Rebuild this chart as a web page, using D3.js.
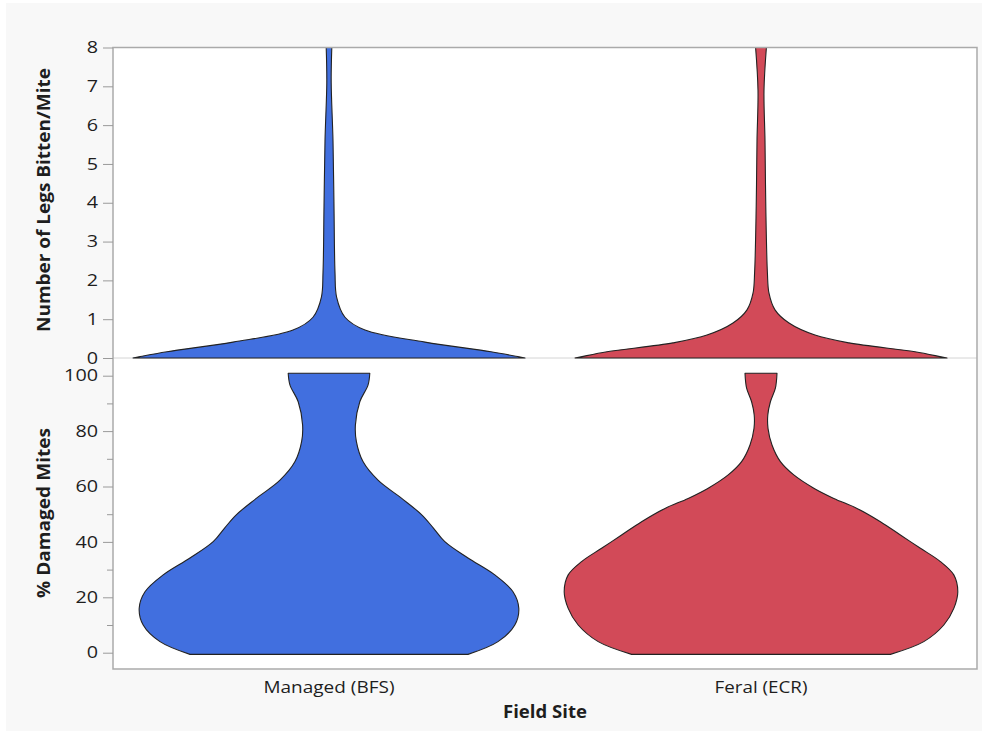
<!DOCTYPE html>
<html>
<head>
<meta charset="utf-8">
<script src="https://cdn.jsdelivr.net/npm/d3@7"></script>
<style>
  html, body { margin: 0; padding: 0; background: #ffffff; }
  text { font-family: "Open Sans", "Noto Sans", sans-serif; fill: #1e1e1e; }
</style>
</head>
<body>
<svg id="chart" width="985" height="731"></svg>
<script>
// Field sites (x categories)
const sites = ["Managed (BFS)", "Feral (ECR)"];
const siteColors = ["#416fdf", "#d24a58"];

// Tick labels
const legTicks = [0, 1, 2, 3, 4, 5, 6, 7, 8];
const pctTicks = [0, 20, 40, 60, 80, 100];
const pctMinorTicks = [10, 30, 50, 70, 90];

// Violin profiles: value along the axis and relative density at that value
// Number of legs bitten per mite
const legsManagedValues  = [0, 0.03, 0.16, 0.41, 0.72, 1.05, 1.57, 2.2, 3.9, 5.6, 7.1, 8.0];
const legsManagedDensity = [0.98, 0.95, 0.81, 0.48, 0.18, 0.08, 0.038, 0.03, 0.025, 0.02, 0.011, 0.014];
const legsFeralValues    = [0, 0.03, 0.16, 0.39, 0.59, 0.9, 1.24, 1.67, 2.2, 3.9, 5.6, 6.9, 8.0];
const legsFeralDensity   = [0.93, 0.9, 0.77, 0.44, 0.27, 0.14, 0.07, 0.04, 0.032, 0.024, 0.02, 0.015, 0.027];

// Percentage of damaged mites
const pctManagedValues  = [-0.6, 4.0, 10.0, 16.0, 22.0, 28.1, 34.2, 40.1, 45.0, 49.7, 55.8, 62.3, 69.0, 76.2, 82.2, 90.6, 96.6, 100.9];
const pctManagedDensity = [0.695, 0.845, 0.929, 0.949, 0.92, 0.829, 0.695, 0.579, 0.522, 0.465, 0.362, 0.245, 0.17, 0.137, 0.132, 0.154, 0.195, 0.204];
const pctFeralValues    = [-0.6, 4.0, 10.0, 16.0, 22.0, 28.1, 32.9, 37.7, 42.5, 47.3, 52.1, 55.7, 59.4, 64.2, 69.0, 75.0, 81.0, 85.8, 90.6, 95.5, 100.9];
const pctFeralDensity   = [0.647, 0.814, 0.914, 0.964, 0.984, 0.964, 0.897, 0.797, 0.697, 0.597, 0.48, 0.364, 0.264, 0.164, 0.097, 0.055, 0.035, 0.034, 0.047, 0.072, 0.08];

const svg = d3.select("#chart");
const FONT = "'Open Sans', 'Noto Sans', sans-serif";

// Outer panel background
svg.append("rect")
  .attr("x", 6).attr("y", 3).attr("width", 976).attr("height", 728)
  .attr("fill", "#f8f8f8");

const plot = { left: 113, right: 977, top: 47.5, mid: 358, bottom: 669 };

const x = d3.scaleBand().domain(sites).range([plot.left, plot.right]).padding(0);
const yLegs = d3.scaleLinear().domain([0, 8]).range([plot.mid, plot.top]);
const yPct = d3.scaleLinear().domain([0, 100]).range([652.7, 375.7]);
const w = d3.scaleLinear().domain([0, 1]).range([0, x.bandwidth() * 0.463]);

// Plot area
svg.append("rect")
  .attr("x", plot.left).attr("y", plot.top)
  .attr("width", plot.right - plot.left).attr("height", plot.bottom - plot.top)
  .attr("fill", "#ffffff");

// Divider between the two panels
svg.append("line")
  .attr("x1", plot.left).attr("x2", plot.right)
  .attr("y1", plot.mid).attr("y2", plot.mid)
  .attr("stroke", "#d4d4d4").attr("stroke-width", 1);

function violin(values, density, site, yScale, color) {
  const cx = x(site) + x.bandwidth() / 2;
  const pts = values.map((v, i) => [v, density[i]]);
  const area = d3.area()
    .curve(d3.curveCatmullRom.alpha(0.5))
    .y(d => yScale(d[0]))
    .x0(d => cx - w(d[1]))
    .x1(d => cx + w(d[1]));
  svg.append("path")
    .attr("d", area(pts))
    .attr("fill", color)
    .attr("stroke", "#222222")
    .attr("stroke-width", 1.1)
    .attr("stroke-linejoin", "round");
}

violin(legsManagedValues, legsManagedDensity, sites[0], yLegs, siteColors[0]);
violin(legsFeralValues, legsFeralDensity, sites[1], yLegs, siteColors[1]);
violin(pctManagedValues, pctManagedDensity, sites[0], yPct, siteColors[0]);
violin(pctFeralValues, pctFeralDensity, sites[1], yPct, siteColors[1]);

// Frame
svg.append("rect")
  .attr("x", plot.left).attr("y", plot.top)
  .attr("width", plot.right - plot.left).attr("height", plot.bottom - plot.top)
  .attr("fill", "none").attr("stroke", "#aaaaaa").attr("stroke-width", 1.5);

// Y axes
function styleAxis(g) {
  g.select(".domain").remove();
  g.selectAll(".tick line").attr("stroke", "#9a9a9a");
  g.selectAll(".tick text")
    .attr("font-size", 16)
    .attr("fill", "#1e1e1e")
    .attr("font-family", FONT)
    .attr("textLength", function () { return this.textContent.length * 11.3; })
    .attr("lengthAdjust", "spacingAndGlyphs");
}

svg.append("g")
  .attr("transform", `translate(${plot.left},0)`)
  .call(d3.axisLeft(yLegs).tickValues(legTicks).tickSize(10).tickPadding(5).tickFormat(d3.format("d")))
  .call(styleAxis);

svg.append("g")
  .attr("transform", `translate(${plot.left},0)`)
  .call(d3.axisLeft(yPct).tickValues(pctTicks).tickSize(10).tickPadding(5).tickFormat(d3.format("d")))
  .call(styleAxis);

svg.append("g")
  .attr("transform", `translate(${plot.left},0)`)
  .call(d3.axisLeft(yPct).tickValues(pctMinorTicks).tickSize(6).tickFormat(""))
  .call(styleAxis);

// Category labels
const catWidths = [131, 93];
svg.append("g").selectAll("text")
  .data(sites)
  .join("text")
  .attr("x", d => x(d) + x.bandwidth() / 2)
  .attr("y", 693)
  .attr("text-anchor", "middle")
  .attr("font-size", 17)
  .attr("textLength", (d, i) => catWidths[i])
  .attr("lengthAdjust", "spacingAndGlyphs")
  .text(d => d);

// Axis titles
svg.append("text")
  .attr("x", (plot.left + plot.right) / 2)
  .attr("y", 718)
  .attr("text-anchor", "middle")
  .attr("font-size", 17)
  .attr("font-weight", "bold")
  .attr("textLength", 84)
  .attr("lengthAdjust", "spacingAndGlyphs")
  .text("Field Site");

svg.append("text")
  .attr("transform", "translate(50,200) rotate(-90)")
  .attr("text-anchor", "middle")
  .attr("font-size", 17)
  .attr("font-weight", "bold")
  .attr("textLength", 264)
  .attr("lengthAdjust", "spacingAndGlyphs")
  .text("Number of Legs Bitten/Mite");

svg.append("text")
  .attr("transform", "translate(50,513) rotate(-90)")
  .attr("text-anchor", "middle")
  .attr("font-size", 17)
  .attr("font-weight", "bold")
  .attr("textLength", 170)
  .attr("lengthAdjust", "spacingAndGlyphs")
  .text("% Damaged Mites");
</script>
</body>
</html>
